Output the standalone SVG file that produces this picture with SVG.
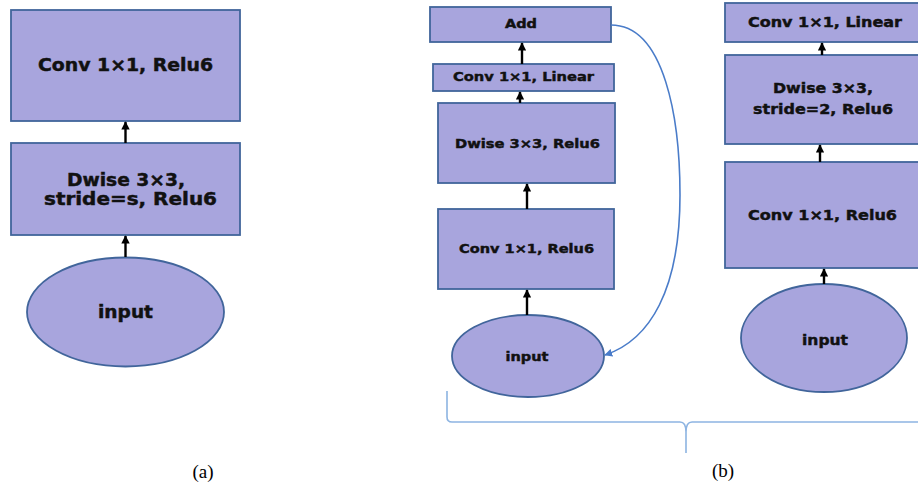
<svg xmlns="http://www.w3.org/2000/svg" width="918" height="486" viewBox="0 0 918 486">
  <style>
    .box { fill: #a8a5dd; stroke: #41659b; stroke-width: 1.8; }
    .lbl { font-family: "DejaVu Sans", "Liberation Sans", sans-serif; font-weight: bold; fill: #111; stroke: #111; stroke-width: 0.45; text-anchor: middle; }
    .arrow { stroke: #000; stroke-width: 2.4; fill: none; marker-end: url(#head); }
    .skip { stroke: #4a7cc9; stroke-width: 1.6; fill: none; marker-end: url(#bluehead); }
    .brace { stroke: #8db4e2; stroke-width: 1.6; fill: none; }
    .cap { font-family: "Liberation Serif", "Times New Roman", serif; font-size: 19px; fill: #000; text-anchor: middle; }
  </style>
  <defs>
    <marker id="head" viewBox="0 0 10 10" refX="9" refY="5" markerWidth="3.5" markerHeight="3.5" orient="auto" markerUnits="strokeWidth">
      <path d="M0,0 L10,5 L0,10 z" fill="#000"/>
    </marker>
    <marker id="bluehead" viewBox="0 0 10 10" refX="9" refY="5" markerWidth="5" markerHeight="5" orient="auto" markerUnits="strokeWidth">
      <path d="M0,0 L10,5 L0,10 z" fill="#4a7cc9"/>
    </marker>
  </defs>

  <rect width="918" height="486" fill="#fff"/>

  <!-- (a) standard block -->
  <g id="a-conv">
    <rect class="box" x="11" y="10" width="229" height="111"/>
    <text class="lbl" x="125.5" y="71" font-size="17" textLength="175" lengthAdjust="spacingAndGlyphs">Conv 1×1, Relu6</text>
  </g>
  <g id="a-dwise">
    <rect class="box" x="11" y="143" width="229" height="92"/>
    <text class="lbl" x="126" y="186" font-size="17" textLength="118" lengthAdjust="spacingAndGlyphs">Dwise 3×3,</text>
    <text class="lbl" x="130.5" y="205" font-size="17" textLength="173" lengthAdjust="spacingAndGlyphs">stride=s, Relu6</text>
  </g>
  <g id="a-input">
    <ellipse class="box" cx="125.5" cy="312" rx="98.5" ry="54.5"/>
    <text class="lbl" x="125.5" y="318" font-size="17" textLength="55" lengthAdjust="spacingAndGlyphs">input</text>
  </g>

  <!-- (b) stride 1 block with residual -->
  <g id="b1-add">
    <rect class="box" x="430" y="7" width="181" height="35"/>
    <text class="lbl" x="521" y="28" font-size="12" textLength="32" lengthAdjust="spacingAndGlyphs">Add</text>
  </g>
  <g id="b1-linear">
    <rect class="box" x="433" y="64" width="181" height="27"/>
    <text class="lbl" x="523.5" y="81" font-size="12.5" textLength="141" lengthAdjust="spacingAndGlyphs">Conv 1×1, Linear</text>
  </g>
  <g id="b1-dwise">
    <rect class="box" x="438" y="103" width="177" height="80"/>
    <text class="lbl" x="527.5" y="148" font-size="12.5" textLength="145" lengthAdjust="spacingAndGlyphs">Dwise 3×3, Relu6</text>
  </g>
  <g id="b1-conv">
    <rect class="box" x="438" y="209" width="176" height="80"/>
    <text class="lbl" x="526.5" y="253" font-size="12.5" textLength="135" lengthAdjust="spacingAndGlyphs">Conv 1×1, Relu6</text>
  </g>
  <g id="b1-input">
    <ellipse class="box" cx="528" cy="356" rx="76" ry="41"/>
    <text class="lbl" x="527" y="361" font-size="13" textLength="43" lengthAdjust="spacingAndGlyphs">input</text>
  </g>

  <!-- (b) stride 2 block -->
  <g id="b2-linear">
    <rect class="box" x="725" y="3" width="200" height="39"/>
    <text class="lbl" x="825" y="27" font-size="14" textLength="154" lengthAdjust="spacingAndGlyphs">Conv 1×1, Linear</text>
  </g>
  <g id="b2-dwise">
    <rect class="box" x="725" y="55" width="200" height="89"/>
    <text class="lbl" x="823" y="93" font-size="14.5" textLength="100" lengthAdjust="spacingAndGlyphs">Dwise 3×3,</text>
    <text class="lbl" x="823" y="114" font-size="14.5" textLength="140" lengthAdjust="spacingAndGlyphs">stride=2, Relu6</text>
  </g>
  <g id="b2-conv">
    <rect class="box" x="725" y="162" width="200" height="106"/>
    <text class="lbl" x="822.5" y="220" font-size="14.5" textLength="149" lengthAdjust="spacingAndGlyphs">Conv 1×1, Relu6</text>
  </g>
  <g id="b2-input">
    <ellipse class="box" cx="824" cy="338" rx="83" ry="54"/>
    <text class="lbl" x="825" y="345" font-size="14.5" textLength="46" lengthAdjust="spacingAndGlyphs">input</text>
  </g>

  <!-- connectors -->
  <g id="connectors">
    <line class="arrow" x1="125.5" y1="143" x2="125.5" y2="122"/>
    <line class="arrow" x1="125.5" y1="257" x2="125.5" y2="236"/>

    <line class="arrow" x1="522" y1="64" x2="522" y2="43"/>
    <line class="arrow" x1="520" y1="103" x2="520" y2="92"/>
    <line class="arrow" x1="527" y1="209" x2="527" y2="184"/>
    <line class="arrow" x1="527" y1="315" x2="527" y2="290"/>
    <path class="skip" d="M611,25 C665,25 680,120 680,195 C680,290 650,340 605,355"/>

    <line class="arrow" x1="822" y1="55" x2="822" y2="43"/>
    <line class="arrow" x1="820" y1="162" x2="820" y2="145"/>
    <line class="arrow" x1="824" y1="284" x2="824" y2="269"/>
  </g>

  <!-- grouping brace for (b) -->
  <path class="brace" d="M447,391 V417 Q447,422 452,422 H680 Q686,422 686,432 V453 M686,432 Q686,422 692,422 H918"/>

  <text class="cap" x="203" y="478">(a)</text>
  <text class="cap" x="723" y="477">(b)</text>
</svg>
